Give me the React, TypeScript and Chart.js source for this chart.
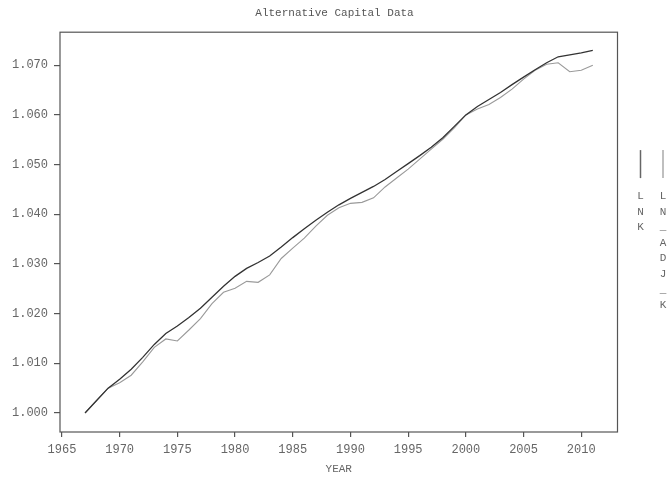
import React, { useEffect, useRef } from "react";
import { Chart, registerables } from "chart.js";

Chart.register(...registerables);

const years = [
  1967, 1968, 1969, 1970, 1971, 1972, 1973, 1974, 1975, 1976, 1977, 1978, 1979, 1980, 1981,
  1982, 1983, 1984, 1985, 1986, 1987, 1988, 1989, 1990, 1991, 1992, 1993, 1994, 1995, 1996,
  1997, 1998, 1999, 2000, 2001, 2002, 2003, 2004, 2005, 2006, 2007, 2008, 2009, 2010, 2011,
];

const lnk = [
  1.0, 1.0025, 1.005, 1.0068, 1.0088, 1.0112, 1.0138, 1.016, 1.0175, 1.0192, 1.0211, 1.0233,
  1.0255, 1.0275, 1.0291, 1.0303, 1.0316, 1.0334, 1.0353, 1.0371, 1.0388, 1.0404, 1.0419,
  1.0432, 1.0444, 1.0456, 1.0470, 1.0486, 1.0502, 1.0518, 1.0535, 1.0554, 1.0577, 1.06,
  1.0617, 1.0631, 1.0645, 1.0661, 1.0676, 1.0691, 1.0705, 1.0717, 1.0721, 1.0725, 1.073,
];

const lnAdjK = [
  1.0, 1.0025, 1.005, 1.0061, 1.0076, 1.0103, 1.0132, 1.0149, 1.0145, 1.0167, 1.019, 1.022,
  1.0243, 1.0251, 1.0265, 1.0263, 1.0278, 1.0311, 1.0332, 1.0352, 1.0376, 1.0398, 1.0413,
  1.0422, 1.0424, 1.0433, 1.0455, 1.0473, 1.0491, 1.0511, 1.0531, 1.0551, 1.0574, 1.06,
  1.0612, 1.0621, 1.0635, 1.0652, 1.0672, 1.069, 1.0702, 1.0705, 1.0687, 1.069, 1.07,
];

const seriesLabels = ["LNK", "LN_ADJ_K"];
const xTicks = [1965, 1970, 1975, 1980, 1985, 1990, 1995, 2000, 2005, 2010];
const yTicks = [1.0, 1.01, 1.02, 1.03, 1.04, 1.05, 1.06, 1.07];

const FONT = '"Liberation Mono", "Courier New", monospace';
const TEXT = "#666";
const AXIS = "#555";

const framePlugin = {
  id: "frameAndLegend",
  afterDraw(chart: any) {
    const { ctx, chartArea: a } = chart;
    ctx.save();
    ctx.strokeStyle = AXIS;
    ctx.lineWidth = 1.2;
    ctx.strokeRect(a.left, a.top, a.right - a.left, a.bottom - a.top);

    // vertical legend
    const top = (a.top + a.bottom) / 2 - 82;
    chart.data.datasets.forEach((ds: any, i: number) => {
      const x = a.right + 23 + i * 22.5;
      ctx.strokeStyle = i === 0 ? "#666" : "#aaa";
      ctx.lineWidth = 1.5;
      ctx.beginPath();
      ctx.moveTo(x, top);
      ctx.lineTo(x, top + 28);
      ctx.stroke();
      ctx.fillStyle = TEXT;
      ctx.font = `11px ${FONT}`;
      ctx.textAlign = "center";
      ctx.textBaseline = "middle";
      const chars = String(ds.label).split("");
      chars.forEach((c, k) => {
        ctx.fillText(c, x, top + 46 + k * 15.6);
      });
    });
    ctx.restore();
  },
};

export default function App() {
  const ref = useRef<HTMLCanvasElement | null>(null);

  useEffect(() => {
    if (!ref.current) return;
    const chart = new Chart(ref.current, {
      type: "line",
      data: {
        labels: years,
        datasets: [
          {
            label: seriesLabels[0],
            data: years.map((y, i) => ({ x: y, y: lnk[i] })),
            borderColor: "#333",
            borderWidth: 1.3,
            pointRadius: 0,
            tension: 0,
            fill: false,
          },
          {
            label: seriesLabels[1],
            data: years.map((y, i) => ({ x: y, y: lnAdjK[i] })),
            borderColor: "#9a9a9a",
            borderWidth: 1.1,
            pointRadius: 0,
            tension: 0,
            fill: false,
          },
        ],
      },
      options: {
        responsive: false,
        animation: false,
        layout: { padding: 0 },
        plugins: {
          legend: { display: false },
          tooltip: { enabled: false },
          title: {
            display: true,
            text: "Alternative Capital Data",
            color: "#555",
            font: { family: FONT, size: 11, weight: "normal" },
            padding: { top: 6, bottom: 13 },
          },
        },
        scales: {
          x: {
            type: "linear",
            min: 1964.83,
            max: 2013.14,
            afterBuildTicks: (s: any) => {
              s.ticks = xTicks.map((value) => ({ value }));
            },
            afterFit: (s: any) => {
              s.height = 46;
            },
            grid: {
              drawOnChartArea: false,
              drawTicks: true,
              tickLength: 5,
              tickColor: AXIS,
              lineWidth: 1.2,
            },
            border: { display: false },
            ticks: {
              color: TEXT,
              padding: 6,
              font: { family: FONT, size: 12 },
              callback: (v: any) => String(v),
              maxRotation: 0,
            },
            title: {
              display: true,
              text: "YEAR",
              color: TEXT,
              font: { family: FONT, size: 11 },
              padding: { top: 4, bottom: 2 },
            },
          },
          y: {
            type: "linear",
            min: 0.99617,
            max: 1.07665,
            afterBuildTicks: (s: any) => {
              s.ticks = yTicks.map((value) => ({ value }));
            },
            afterFit: (s: any) => {
              s.width = 60;
            },
            grid: {
              drawOnChartArea: false,
              drawTicks: true,
              tickLength: 6,
              tickColor: AXIS,
              lineWidth: 1.2,
            },
            border: { display: false },
            ticks: {
              color: TEXT,
              padding: 6,
              font: { family: FONT, size: 12 },
              callback: (v: any) => Number(v).toFixed(3),
            },
          },
          yRight: {
            type: "linear",
            position: "right",
            display: true,
            grid: { display: false, drawTicks: false },
            border: { display: false },
            ticks: { display: false },
            afterFit: (s: any) => {
              s.width = 51.5;
            },
          },
        },
      } as any,
      plugins: [framePlugin],
    });
    return () => chart.destroy();
  }, []);

  return (
    <div style={{ position: "absolute", left: 0, top: 0, width: 669, height: 478, background: "#fff" }}>
      <canvas ref={ref} width={669} height={478} style={{ display: "block" }} />
    </div>
  );
}
